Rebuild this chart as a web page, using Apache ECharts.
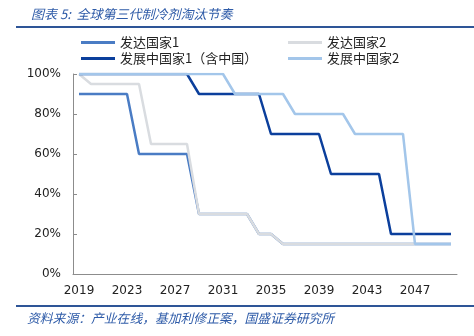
<!DOCTYPE html>
<html>
<head>
<meta charset="utf-8">
<style>
  html, body { margin: 0; padding: 0; background: #fff; }
  #chart { width: 474px; height: 336px; }
</style>
<script src="https://cdn.jsdelivr.net/npm/echarts@6/dist/echarts.min.js"></script>
</head>
<body>
<div id="chart"></div>
<script>
// Years shown on the category axis (2019 - 2050)
const years = [];
for (let y = 2019; y <= 2050; y++) years.push(String(y));

// Remaining HFC consumption, % of baseline, one value per year
const developed1 = [90,90,90,90,90,60,60,60,60,60,30,30,30,30,30,20,20,15,15,15,15,15,15,15,15,15,15,15,15,15,15,15];
const developed2 = [100,95,95,95,95,95,65,65,65,65,30,30,30,30,30,20,20,15,15,15,15,15,15,15,15,15,15,15,15,15,15,15];
const developing1 = [100,100,100,100,100,100,100,100,100,100,90,90,90,90,90,90,70,70,70,70,70,50,50,50,50,50,20,20,20,20,20,20];
const developing2 = [100,100,100,100,100,100,100,100,100,100,100,100,100,90,90,90,90,90,80,80,80,80,80,70,70,70,70,70,15,15,15,15];

const yTicks = [0, 20, 40, 60, 80, 100];

const names = ['发达国家1', '发达国家2', '发展中国家1（含中国）', '发展中国家2'];
const colors = ['#4a7cc4', '#d9dce0', '#0b3f9c', '#a3c6ea'];
const values = [developed1, developed2, developing1, developing2];

const chart = echarts.init(document.getElementById('chart'));
const cnFont = '"Noto Sans CJK SC", "DejaVu Sans", sans-serif';

const legendBase = {
  orient: 'vertical',
  top: 31,
  icon: 'rect',
  itemWidth: 34,
  itemHeight: 3,
  itemGap: 3,
  textStyle: { fontFamily: cnFont, fontSize: 13, color: '#222' }
};

chart.setOption({
  animation: false,
  color: colors,
  title: {
    text: '图表 5:  全球第三代制冷剂淘汰节奏',
    left: 26,
    top: 3,
    textStyle: { fontFamily: cnFont, fontSize: 13, fontStyle: 'italic', fontWeight: 'normal', color: '#2e5ba8' }
  },
  legend: [
    Object.assign({}, legendBase, { left: 76, data: [names[0], names[2]] }),
    Object.assign({}, legendBase, { left: 283, data: [names[1], names[3]] })
  ],
  graphic: [
    { type: 'rect', shape: { x: 16, y: 26, width: 458, height: 2 }, style: { fill: '#2e5597' } },
    { type: 'rect', shape: { x: 16, y: 305, width: 458, height: 2 }, style: { fill: '#2e5597' } },
    {
      type: 'text', left: 27, top: 312,
      style: { text: '资料来源：产业在线，基加利修正案，国盛证券研究所', font: 'italic 12.8px "Noto Sans CJK SC", sans-serif', fill: '#2e5ba8' }
    }
  ],
  grid: { left: 73, right: 17, top: 74, bottom: 62 },
  xAxis: {
    type: 'category',
    data: years,
    boundaryGap: true,
    axisLine: { lineStyle: { color: '#8c8c8c', width: 1 } },
    axisTick: { inside: true, length: 4, interval: 1, lineStyle: { color: '#8c8c8c' } },
    axisLabel: { interval: 3, margin: 11, fontFamily: 'DejaVu Sans', fontSize: 12, color: '#222' },
    splitLine: { show: false }
  },
  yAxis: {
    type: 'value',
    min: yTicks[0],
    max: yTicks[yTicks.length - 1],
    interval: 20,
    axisLine: { show: true, lineStyle: { color: '#8c8c8c', width: 1 } },
    axisTick: { show: true, inside: true, length: 4, lineStyle: { color: '#8c8c8c' } },
    axisLabel: { margin: 12, fontFamily: 'DejaVu Sans', fontSize: 12, color: '#222', formatter: '{value}%' },
    splitLine: { show: false }
  },
  series: values.map((v, i) => ({
    name: names[i],
    type: 'line',
    data: v,
    symbol: 'none',
    z: 2 + i,
    lineStyle: { width: 2.5, color: colors[i] },
    itemStyle: { color: colors[i] }
  }))
});
</script>
</body>
</html>
